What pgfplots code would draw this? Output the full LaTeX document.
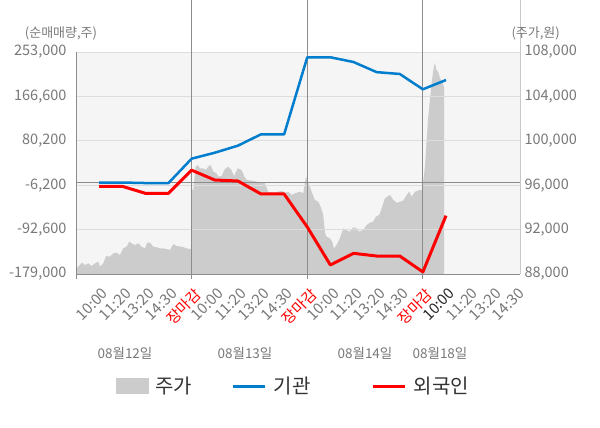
\documentclass[border=0pt]{standalone}
\usepackage{pgfplots}
\pgfplotsset{compat=1.18}
\usepackage{fontspec}
\setmainfont{Noto Sans CJK KR}
\definecolor{bgc}{RGB}{245,245,245}
\definecolor{areac}{RGB}{204,204,204}
\definecolor{gridc}{RGB}{221,221,221}
\definecolor{axc}{RGB}{140,140,140}
\definecolor{raxc}{RGB}{200,200,200}
\definecolor{tickc}{RGB}{120,120,120}
\definecolor{bluec}{RGB}{0,125,205}
\definecolor{redc}{RGB}{255,0,0}
\definecolor{legc}{RGB}{51,51,51}
\newcommand\tickfont{\fontsize{14.5}{14.5}\selectfont}
\newcommand\xtickfont{\fontsize{15}{15}\selectfont}
\pgfplotstableread{
x y
0 88000
0 88450
0.17 88810
0.25 89020
0.39 88810
0.53 88960
0.68 88720
0.82 88960
0.96 89110
1.04 88660
1.18 88960
1.30 89620
1.47 89560
1.61 89860
1.76 89920
1.90 89710
2.04 90310
2.19 90460
2.30 90910
2.41 90760
2.55 90610
2.69 90760
2.84 90460
2.98 90310
3.08 90820
3.20 90820
3.34 90460
3.49 90400
3.63 90310
3.77 90310
3.99 90220
4.06 90160
4.21 90700
4.35 90520
4.57 90460
4.79 90310
4.99 90220
5.00 95870
5.07 95410
5.17 97670
5.26 97820
5.36 97520
5.50 97520
5.61 97370
5.72 97670
5.82 97820
5.94 97220
6.08 97070
6.15 96770
6.30 96830
6.41 97370
6.56 97670
6.70 97430
6.84 96830
6.99 97520
7.16 97370
7.28 96770
7.38 96470
7.60 96410
7.81 96320
8.03 96230
8.17 96170
8.31 95410
8.53 95330
8.75 95410
8.89 95500
9.04 95330
9.18 95410
9.33 95120
9.47 95270
9.68 95410
9.83 95270
9.90 96320
9.96 96770
10.00 96320
10.09 96020
10.19 95410
10.33 94670
10.48 94510
10.58 94060
10.69 93320
10.77 91670
10.84 91360
10.98 91210
11.08 90910
11.15 90310
11.27 90610
11.41 91210
11.56 92110
11.70 91960
11.82 91810
11.99 92200
12.14 92110
12.25 91810
12.42 91960
12.57 92410
12.71 92620
12.85 92710
12.97 93160
13.11 93320
13.22 93920
13.36 94820
13.46 94970
13.58 95120
13.72 94670
13.87 94420
14.01 94510
14.15 94600
14.30 95120
14.41 95410
14.51 94970
14.66 95410
14.87 95570
14.99 95570
15.01 96290
15.09 97640
15.23 102140
15.38 105200
15.45 106380
15.52 107030
15.59 106380
15.66 106200
15.74 105660
15.81 105300
15.88 105030
15.92 104760
15.92 88000
}\pricedata
\pgfplotstableread{
x y
1 -1000
2 -1000
3 -2000
4 -2000
5 45400
6 57000
7 70700
8 92800
9 92800
10 242700
11 242700
12 233500
13 213800
14 210200
15 180400
16 198500
}\instdata
\pgfplotstableread{
x y
1 -8400
2 -8400
3 -22000
4 -22000
5 23000
6 3900
7 2000
8 -23300
9 -23300
10 -87500
11 -161500
12 -138800
13 -144000
14 -144000
15 -175000
16 -65500
}\foreigndata
\begin{document}
\begin{tikzpicture}[x=1pt,y=1pt]
\path[use as bounding box] (0,0) rectangle (600,428);
\begin{axis}[
  at={(76pt,154pt)}, anchor=south west, scale only axis,
  width=444pt, height=222pt,
  xmin=0, xmax=19.2, ymin=88000, ymax=108000,
  axis x line=none, axis y line*=right,
  axis line style={draw=raxc, line width=0.8pt},
  scaled y ticks=false,
  ytick={88000,92000,96000,100000,104000,108000},
  yticklabels={{88,000},{92,000},{96,000},{100,000},{104,000},{108,000}},
  yticklabel style={font=\tickfont, text=tickc, xshift=1pt},
  major tick length=0pt,
  axis background/.style={fill=bgc},
]
\addplot[fill=areac, draw=none] table[x=x,y=y] {\pricedata};
\end{axis}
\begin{axis}[
  at={(76pt,154pt)}, anchor=south west, scale only axis,
  width=444pt, height=222pt,
  xmin=0, xmax=19.2, ymin=-179000, ymax=253000,
  axis x line*=bottom, axis y line*=left,
  axis line style={draw=axc, line width=0.8pt},
  scaled y ticks=false, scaled x ticks=false,
  ytick={-179000,-92600,-6200,80200,166600,253000},
  yticklabels={{-179,000},{-92,600},{-6,200},{80,200},{166,600},{253,000}},
  yticklabel style={font=\tickfont, text=tickc, xshift=-6pt},
  ymajorgrids, major grid style={gridc, line width=0.8pt},
  xtick={1,...,19},
  xticklabels={{10:00},{11:20},{13:20},{14:30},{\textcolor{redc}{장마감}},
    {10:00},{11:20},{13:20},{14:30},{\textcolor{redc}{장마감}},
    {10:00},{11:20},{13:20},{14:30},{\textcolor{redc}{장마감}},
    {\textcolor{black!85}{10:00}},{11:20},{13:20},{14:30}},
  xticklabel style={xshift=2pt, yshift=-13pt, rotate=45, anchor=north east, font=\xtickfont, text=tickc, inner sep=0pt},
  major tick length=0pt,
  extra x ticks={0,5,10,15}, extra x tick labels={},
  extra x tick style={major tick length=5pt, tick align=outside, tick style={draw=axc, line width=0.8pt}, grid=major, major grid style={axc, line width=0.8pt}},
  extra y ticks={0}, extra y tick labels={},
  extra y tick style={grid=major, major grid style={axc, line width=0.8pt}},
  clip=false,
  legend columns=3,
  legend style={at={(0.487,-0.505)}, anchor=center, draw=none, fill=none,
    font=\fontsize{20}{20}\selectfont, text=legc, nodes={inner sep=0pt},
    /tikz/every odd column/.append style={column sep=7pt},
    /tikz/every even column/.append style={column sep=40pt}},
]
\addlegendimage{legend image code/.code={\fill[areac] (0pt,-7.5pt) rectangle (32pt,7.5pt);}}
\addlegendentry{주가}
\addplot[bluec, line width=2.5pt, line join=round,
  legend image code/.code={\draw[bluec, line width=3pt] (0pt,0pt) -- (32pt,0pt);}]
  table[x=x,y=y] {\instdata};
\addlegendentry{\hbox{기관\kern21pt}}
\addplot[redc, line width=3pt, line join=round,
  legend image code/.code={\draw[redc, line width=3pt] (0pt,0pt) -- (32pt,0pt);}]
  table[x=x,y=y] {\foreigndata};
\addlegendentry{외국인}
\draw[axc, line width=0.8pt] (axis cs:5,253000) -- ++(0,7pt);
\draw[axc, line width=0.8pt] (axis cs:10,253000) -- ++(0,7pt);
\draw[axc, line width=0.8pt] (axis cs:15,253000) -- ++(0,7pt);
\draw[raxc, line width=0.8pt] (axis cs:19.2,253000) -- ++(0,7pt);
\end{axis}
\node[text=tickc, font=\fontsize{13}{13}\selectfont] at (61,395) {(순매매량,주)};
\node[text=tickc, font=\fontsize{13}{13}\selectfont] at (535.7,395) {(주가,원)};
\node[text=tickc, font=\fontsize{13.5}{13.5}\selectfont] at (125,75) {08월12일};
\node[text=tickc, font=\fontsize{13.5}{13.5}\selectfont] at (245,75) {08월13일};
\node[text=tickc, font=\fontsize{13.5}{13.5}\selectfont] at (365,75) {08월14일};
\node[text=tickc, font=\fontsize{13.5}{13.5}\selectfont] at (440,75) {08월18일};
\end{tikzpicture}
\end{document}
